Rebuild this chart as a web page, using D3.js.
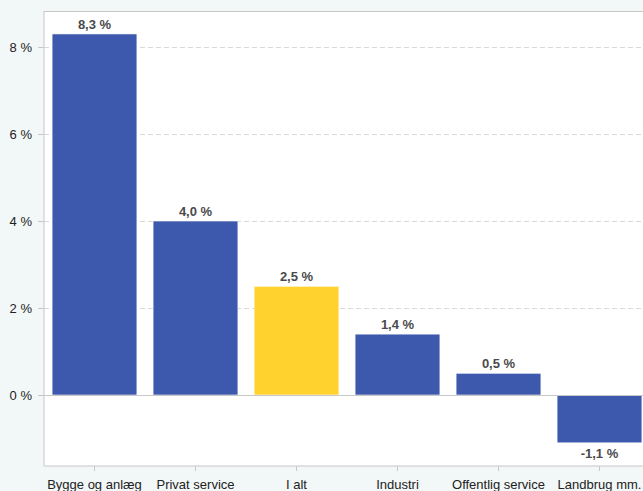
<!DOCTYPE html>
<html>
<head>
<meta charset="utf-8">
<script src="https://cdn.jsdelivr.net/npm/d3@7"></script>
<style>
  html, body { margin: 0; padding: 0; background: #f2f7f7; overflow: hidden; }
  svg { display: block; font-family: "Liberation Sans", Arial, sans-serif; }
</style>
</head>
<body>
<div id="chart"></div>
<script>
var categories = ['Bygge og anlæg', 'Privat service', 'I alt', 'Industri', 'Offentlig service', 'Landbrug mm.'];
var values = [8.3, 4.0, 2.5, 1.4, 0.5, -1.1];
var yTicks = [0, 2, 4, 6, 8];

var W = 643, H = 491;
var plotLeft = 44, plotTop = 11.5, plotBottom = 466;

var svg = d3.select('#chart')
  .append('svg')
    .attr('width', W)
    .attr('height', H);

var x = d3.scaleBand()
  .domain(categories)
  .range([plotLeft, plotLeft + 101 * categories.length])
  .paddingInner(0.16)
  .paddingOuter(0.08);

var y = d3.scaleLinear()
  .domain([-1.632, 8.816])
  .range([plotBottom, plotTop]);

// plot background
svg.append('rect')
  .attr('x', plotLeft)
  .attr('y', plotTop)
  .attr('width', W - plotLeft + 10)
  .attr('height', plotBottom - plotTop)
  .attr('fill', '#fff')
  .attr('stroke', '#c8c8c8');

// grid lines
svg.append('g')
  .selectAll('line')
  .data(yTicks.filter(function (d) { return d !== 0; }))
  .join('line')
    .attr('x1', plotLeft)
    .attr('x2', W)
    .attr('y1', function (d) { return Math.round(y(d)) + 0.5; })
    .attr('y2', function (d) { return Math.round(y(d)) + 0.5; })
    .attr('stroke', '#d8d8d8')
    .attr('stroke-dasharray', '5,3');

// bars
svg.append('g')
  .selectAll('rect')
  .data(values)
  .join('rect')
    .attr('x', function (d, i) { return x(categories[i]); })
    .attr('width', x.bandwidth())
    .attr('y', function (d) { return y(Math.max(0, d)); })
    .attr('height', function (d) { return Math.abs(y(d) - y(0)); })
    .attr('fill', function (d, i) { return categories[i] === 'I alt' ? '#ffd22e' : '#3d59ad'; })
    .attr('stroke', '#fff')
    .attr('stroke-width', 0.6);

// zero line
svg.append('line')
  .attr('x1', plotLeft)
  .attr('x2', W)
  .attr('y1', Math.round(y(0)) + 0.5)
  .attr('y2', Math.round(y(0)) + 0.5)
  .attr('stroke', '#c8c8c8');

// value labels
svg.append('g')
  .selectAll('text')
  .data(values)
  .join('text')
    .attr('x', function (d, i) { return x(categories[i]) + x.bandwidth() / 2; })
    .attr('y', function (d) { return d >= 0 ? y(d) - 5 : y(d) + 15; })
    .attr('text-anchor', 'middle')
    .attr('font-size', 13)
    .attr('font-weight', 'bold')
    .attr('fill', '#4a4a4a')
    .text(function (d) { return d.toFixed(1).replace('.', ',') + ' %'; });

// y axis
var yAxis = svg.append('g')
  .attr('transform', 'translate(' + plotLeft + ',0)')
  .call(d3.axisLeft(y).tickValues(yTicks).tickSize(6).tickPadding(6)
    .tickFormat(function (d) { return d + ' %'; }));
yAxis.select('.domain').remove();
yAxis.selectAll('line').attr('stroke', '#c8c8c8');
yAxis.selectAll('text').attr('font-size', 13).attr('fill', '#222')
  .attr('font-family', '"Liberation Sans", Arial, sans-serif');

// x axis
var xAxis = svg.append('g')
  .attr('transform', 'translate(0,' + plotBottom + ')')
  .call(d3.axisBottom(x).tickSize(5).tickPadding(9));
xAxis.select('.domain').remove();
xAxis.selectAll('line').attr('stroke', '#c8c8c8');
xAxis.selectAll('text').attr('font-size', 13).attr('fill', '#222')
  .attr('font-family', '"Liberation Sans", Arial, sans-serif');
</script>
</body>
</html>
